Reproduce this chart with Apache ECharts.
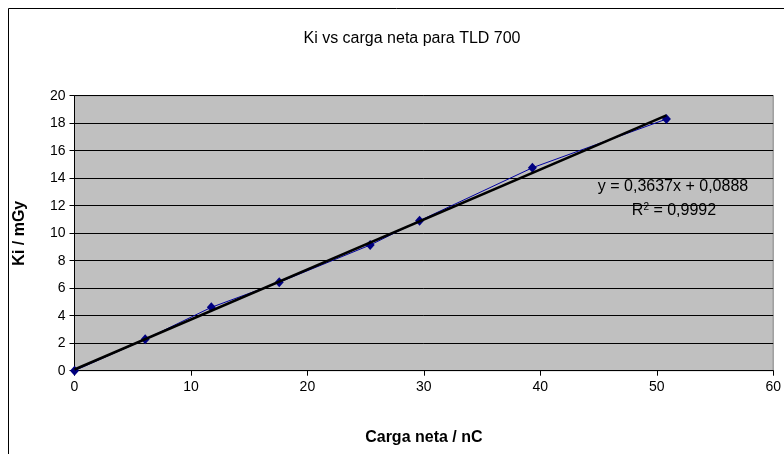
<!DOCTYPE html>
<html>
<head>
<meta charset="utf-8">
<script src="https://cdn.jsdelivr.net/npm/echarts@6/dist/echarts.min.js"></script>
<style>
html,body{margin:0;padding:0;background:#fff;}
#c{width:784px;height:454px;}
</style>
</head>
<body>
<div id="c"></div>
<script>
const chargeNC = [0, 6.07, 11.75, 17.58, 25.39, 29.63, 39.32, 50.83];
const kiMGy = [0, 2.28, 4.61, 6.43, 9.14, 10.91, 14.76, 18.3];
const trendSlope = 0.3637;
const trendIntercept = 0.0888;
const trendX = [0, 50.83];
const xTicks = [0, 10, 20, 30, 40, 50, 60];
const yTicks = [0, 2, 4, 6, 8, 10, 12, 14, 16, 18, 20];
const titleText = 'Ki vs carga neta para TLD 700';
const eqText = 'y = 0,3637x + 0,0888';
const r2Text = 'R{sup|2} = 0,9992';

const font = 'Arial, "Liberation Sans", sans-serif';
const chart = echarts.init(document.getElementById('c'), null, {renderer: 'canvas'});
chart.setOption({
  animation: false,
  backgroundColor: '#fff',
  title: {
    text: titleText, left: 407, top: 26, textAlign: 'center',
    textStyle: {fontFamily: font, fontSize: 16, fontWeight: 'normal', color: '#000'}
  },
  grid: {
    left: 74.5, right: 6, top: 95.7, bottom: 83.3,
    show: true, backgroundColor: '#C0C0C0', borderColor: '#808080', borderWidth: 1
  },
  xAxis: {
    type: 'value', min: xTicks[0], max: xTicks[xTicks.length - 1], interval: 10,
    name: 'Carga neta / nC', nameLocation: 'middle', nameGap: 59,
    nameTextStyle: {fontFamily: font, fontSize: 16, fontWeight: 'bold', color: '#000'},
    axisLine: {show: true, lineStyle: {color: '#000', width: 1}},
    axisTick: {show: true, length: 5, lineStyle: {color: '#000'}},
    axisLabel: {fontFamily: font, fontSize: 14, color: '#000', margin: 9},
    splitLine: {show: false}
  },
  yAxis: {
    type: 'value', min: yTicks[0], max: yTicks[yTicks.length - 1], interval: 2,
    name: 'Ki / mGy', nameLocation: 'middle', nameGap: 47, nameRotate: 90,
    nameTextStyle: {fontFamily: font, fontSize: 16, fontWeight: 'bold', color: '#000'},
    axisLine: {show: true, lineStyle: {color: '#000', width: 1}},
    axisTick: {show: true, length: 5, lineStyle: {color: '#000'}},
    axisLabel: {fontFamily: font, fontSize: 14, color: '#000', margin: 9},
    splitLine: {show: true, lineStyle: {color: '#000', width: 1}}
  },
  series: [
    {
      type: 'line',
      data: chargeNC.map((x, i) => [x, kiMGy[i]]),
      symbol: 'diamond', symbolSize: [9, 10],
      itemStyle: {color: '#000080'},
      lineStyle: {color: '#0000A0', width: 1},
      z: 2
    },
    {
      type: 'line',
      data: trendX.map(x => [x, trendSlope * x + trendIntercept]),
      symbol: 'none',
      lineStyle: {color: '#000', width: 2.5},
      z: 3
    }
  ],
  graphic: [
    {type: 'rect', shape: {x: 8.5, y: 8.5, width: 800, height: 500}, style: {fill: 'none', stroke: '#000', lineWidth: 1}, silent: true},
    {type: 'text', x: 673, y: 187, style: {text: eqText, font: '16px ' + font, fill: '#000', align: 'center', verticalAlign: 'middle'}, z: 10},
    {type: 'text', x: 674, y: 211, style: {text: r2Text, font: '16px ' + font, fill: '#000', align: 'center', verticalAlign: 'middle',
      rich: {sup: {fontSize: 10, verticalAlign: 'top', padding: [0,0,7,0], fontFamily: font}}}, z: 10}
  ]
});
</script>
</body>
</html>
